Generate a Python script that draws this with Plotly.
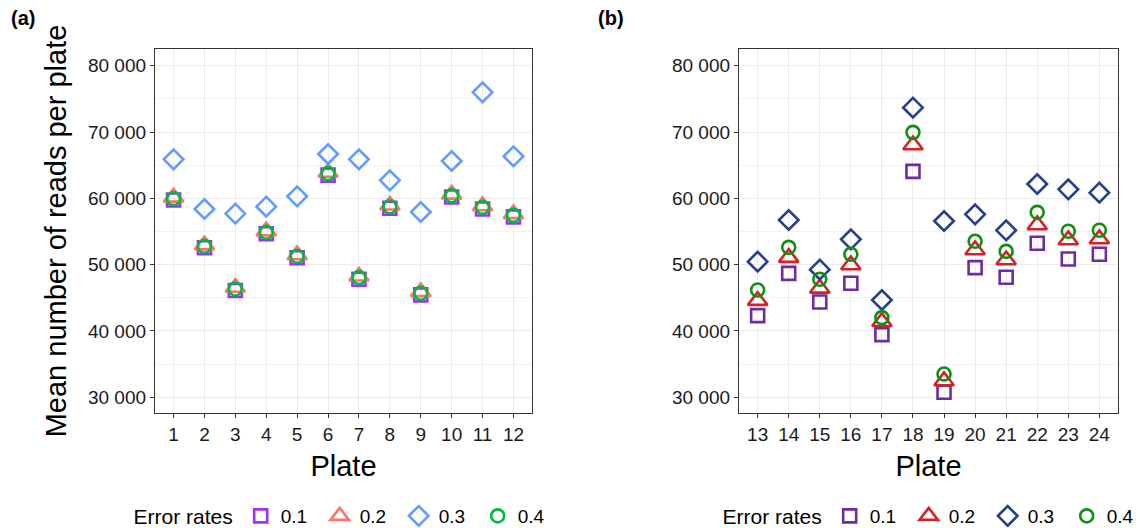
import plotly.graph_objects as go

# ---------------- data ----------------
plates_a = [str(i) for i in range(1, 13)]
plates_b = [str(i) for i in range(13, 25)]
rates = ["0.1", "0.2", "0.3", "0.4"]

a_01 = [59750, 52550, 46100, 54650, 51050, 63500, 47800, 58500, 45450, 60200, 58400, 57200]
a_02 = [60150, 52950, 46550, 55050, 51450, 63900, 48250, 58950, 45900, 60600, 58850, 57650]
a_03 = [65880, 58390, 57690, 58740, 60300, 66680, 65880, 62710, 57940, 65630, 75980, 66330]
a_04 = [59950, 52760, 46330, 54870, 51260, 63720, 48040, 58740, 45680, 60400, 58640, 57440]

b_01 = [42310, 48690, 44370, 47190, 39450, 64070, 30750, 49550, 48090, 53220, 50850, 51560]
b_02 = [44570, 51060, 46430, 49950, 41400, 68040, 32460, 52210, 50700, 55980, 53720, 53870]
b_03 = [50450, 56730, 49250, 53820, 44670, 73670, 56580, 57590, 55180, 62160, 61360, 60850]
b_04 = [46180, 52610, 47790, 51560, 42010, 69950, 33520, 53520, 52010, 57890, 55030, 55180]

y_ticks = [30000, 40000, 50000, 60000, 70000, 80000]
y_ticktext = ["30 000", "40 000", "50 000", "60 000", "70 000", "80 000"]
y_minor = [35000, 45000, 55000, 65000, 75000]

# ---------------- styles ----------------
FONT = "Liberation Sans, Arial, sans-serif"
symbols = ["square-open", "triangle-up-open", "diamond-open", "circle-open"]
sizes = [13, 17, 15, 13]
colors_a = ["#9B30FF", "#F8766D", "#619CFF", "#00BA38"]
colors_b = ["#6C2DA0", "#D42127", "#263E8C", "#109010"]

fig = go.Figure()

series_a = [a_01, a_02, a_03, a_04]
series_b = [b_01, b_02, b_03, b_04]

for i, r in enumerate(rates):
    fig.add_trace(go.Scatter(
        x=plates_a, y=series_a[i], mode="markers", name=r,
        marker=dict(symbol=symbols[i], size=sizes[i], color=colors_a[i],
                    line=dict(width=2.6, color=colors_a[i])),
        xaxis="x", yaxis="y", legend="legend",
    ))
for i, r in enumerate(rates):
    fig.add_trace(go.Scatter(
        x=plates_b, y=series_b[i], mode="markers", name=r,
        marker=dict(symbol=symbols[i], size=sizes[i], color=colors_b[i],
                    line=dict(width=2.6, color=colors_b[i])),
        xaxis="x2", yaxis="y2", legend="legend2",
    ))

yrange = [27630, 82520]

def xaxis_style(domain, cats, title):
    return dict(
        domain=domain, type="category", categoryorder="array", categoryarray=cats,
        range=[-0.6, len(cats) - 0.4],
        showgrid=True, gridcolor="#EBEBEB", gridwidth=1.2,
        showline=True, mirror=True, linecolor="#333333", linewidth=1.3,
        ticks="outside", ticklen=4, tickwidth=1.1, tickcolor="#333333",
        tickfont=dict(family=FONT, size=19, color="#1a1a1a"),
        title=dict(text=title, font=dict(family=FONT, size=29, color="#000000"), standoff=11),
        zeroline=False, automargin=False,
    )

def yaxis_style(anchor, title):
    d = dict(
        domain=[0, 1], range=yrange, anchor=anchor,
        tickvals=y_ticks, ticktext=y_ticktext,
        showgrid=True, gridcolor="#EBEBEB", gridwidth=1.2,
        minor=dict(tickvals=y_minor, showgrid=True, gridcolor="#F2F2F2", gridwidth=0.7, ticks=""),
        showline=True, mirror=True, linecolor="#333333", linewidth=1.3,
        ticks="outside", ticklen=4, tickwidth=1.1, tickcolor="#333333",
        tickfont=dict(family=FONT, size=19, color="#1a1a1a"),
        zeroline=False, automargin=False,
    )
    if title:
        d["title"] = dict(text=title, font=dict(family=FONT, size=29, color="#000000"), standoff=12)
    return d

# the page body adds an 8px offset, so the figure is laid out 8px smaller
OFF = 8
W, H = 1148 - OFF, 528 - OFF
ml, mr, mt, mb = 155 - OFF, 30, 49 - OFF, 115
pw = W - ml - mr
ph = H - mt - mb

def legend_style(cx):
    return dict(
        orientation="h", xref="container", yref="container",
        x=(cx - OFF) / W, xanchor="center", y=1 - (516 - OFF) / H, yanchor="middle",
        title=dict(text="Error rates", side="left", font=dict(family=FONT, size=21)),
        font=dict(family=FONT, size=19), bgcolor="rgba(0,0,0,0)",
        entrywidth=34, entrywidthmode="pixels",
    )

fig.update_layout(
    width=W, height=H,
    margin=dict(l=ml, r=mr, t=mt, b=mb),
    paper_bgcolor="white", plot_bgcolor="white",
    font=dict(family=FONT, color="#000000"),
    xaxis=xaxis_style([0, (532 - 155) / pw], plates_a, "Plate") | dict(anchor="y"),
    xaxis2=xaxis_style([(739 - 155) / pw, 1.0], plates_b, "Plate") | dict(anchor="y2"),
    yaxis=yaxis_style("x", "Mean number of reads per plate"),
    yaxis2=yaxis_style("x2", None),
    legend=legend_style(344.5),
    legend2=legend_style(933.5),
    annotations=[
        dict(text="<b>(a)</b>", xref="paper", yref="paper", x=(9 - 155) / pw, xanchor="left",
             y=1 + (49 - 18) / ph, yanchor="middle", showarrow=False,
             font=dict(family=FONT, size=20, color="#000000")),
        dict(text="<b>(b)</b>", xref="paper", yref="paper", x=(596 - 155) / pw, xanchor="left",
             y=1 + (49 - 18) / ph, yanchor="middle", showarrow=False,
             font=dict(family=FONT, size=20, color="#000000")),
    ],
)

fig.write_html("out.html")
